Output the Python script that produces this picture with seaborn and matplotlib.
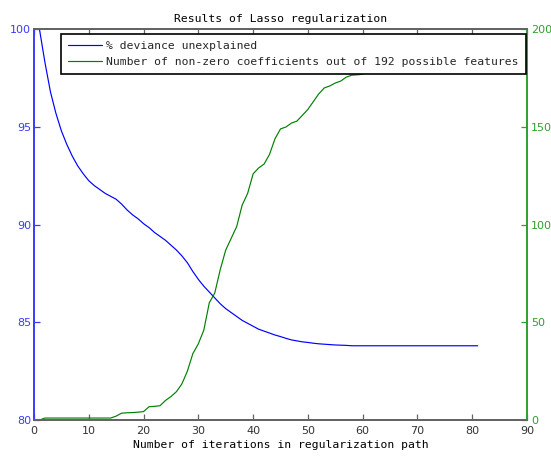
import numpy as np
import pandas as pd
import matplotlib
matplotlib.use("Agg")
import matplotlib.pyplot as plt
import seaborn as sns

# ---- data ----
iterations = list(range(1, 82))

deviance = [
    100.0, 98.3, 96.8, 95.7, 94.8, 94.1, 93.5, 93.0, 92.6, 92.25,
    92.0, 91.8, 91.6, 91.45, 91.3, 91.05, 90.75, 90.5, 90.3, 90.05,
    89.85, 89.6, 89.4, 89.2, 88.95, 88.7, 88.4, 88.05, 87.6, 87.2,
    86.85, 86.55, 86.25, 85.95, 85.7, 85.5, 85.3, 85.1, 84.95, 84.8,
    84.65, 84.55, 84.45, 84.35, 84.27, 84.18, 84.1, 84.05, 84.0, 83.97,
    83.93, 83.9, 83.88, 83.86, 83.84, 83.83, 83.82, 83.8, 83.8, 83.8,
    83.8, 83.8, 83.8, 83.8, 83.8, 83.8, 83.8, 83.8, 83.8, 83.8,
    83.8, 83.8, 83.8, 83.8, 83.8, 83.8, 83.8, 83.8, 83.8, 83.8,
    83.8,
]

nonzero = [
    0, 1, 1, 1, 1, 1, 1, 1, 1, 1,
    1, 1, 1, 1, 2, 3.5, 3.7, 3.8, 4, 4.3,
    6.8, 7, 7.3, 10, 12, 14.5, 18.5, 25, 34, 39,
    46, 60, 65, 77, 87, 93, 99, 110, 116, 126,
    129, 131, 136, 144, 149, 150, 152, 153, 156, 159,
    163, 167, 170, 171, 172.5, 173.5, 175.5, 176.5, 176.7, 177,
    179, 180, 181, 181.5, 182, 182.5, 183, 183.5, 184, 184.5,
    185, 185, 185.5, 186, 186, 186.5, 187, 187, 187.5, 187.5,
    188,
]

title = "Results of Lasso regularization"
xlabel = "Number of iterations in regularization path"
label_dev = "% deviance unexplained"
label_nz = "Number of non-zero coefficients out of 192 possible features"

x_ticks = list(range(0, 91, 10))
left_ticks = [80, 85, 90, 95, 100]
right_ticks = [0, 50, 100, 150, 200]

df = pd.DataFrame({"iter": iterations, "dev": deviance, "nz": nonzero})

# ---- style ----
sns.set_style("white")
plt.rcParams["font.family"] = ["DejaVu Sans"]
mono = "DejaVu Sans Mono"

BLUE = "#0000ff"
GREEN = "#008000"
BLUE_T = "#3a3aff"
GREEN_T = "#2f9f2f"
GRAY = "#646464"

fig = plt.figure(figsize=(5.51, 4.57), dpi=100)
ax = fig.add_axes([34 / 551, 1 - 420 / 457, 493 / 551, 390.7 / 457])
ax2 = ax.twinx()

sns.lineplot(data=df, x="iter", y="dev", ax=ax, color=BLUE, linewidth=0.85,
             label=label_dev, legend=False)
sns.lineplot(data=df, x="iter", y="nz", ax=ax2, color=GREEN, linewidth=0.85,
             label=label_nz, legend=False)

ax.set_xlim(0, 90)
ax.set_ylim(80, 100)
ax2.set_ylim(0, 200)
ax.set_xticks(x_ticks)
ax.set_yticks(left_ticks)
ax2.set_yticks(right_ticks)
ax.set_xticklabels([str(t) for t in x_ticks])
ax.set_yticklabels([str(t) for t in left_ticks])
ax2.set_yticklabels([str(t) for t in right_ticks])

ax.set_xlabel(xlabel, family=mono, fontsize=8.2, color="black", labelpad=3)
ax.set_ylabel("")
ax2.set_ylabel("")
ax.set_title(title, family=mono, fontsize=8.2, color="black", pad=5)

# ticks
ax.tick_params(axis="x", direction="in", length=4, width=0.9, color=GRAY,
               labelcolor="#333333", labelsize=8, pad=4, top=True, bottom=True)
ax.tick_params(axis="y", direction="in", length=4, width=0.9, color=BLUE_T,
               labelcolor=BLUE_T, labelsize=8, pad=2, left=True, right=False)
ax2.tick_params(axis="y", direction="in", length=4, width=0.9, color=GREEN_T,
                labelcolor=GREEN_T, labelsize=8, pad=3, right=True, left=False)

for a in (ax, ax2):
    for s in a.spines.values():
        s.set_visible(True)
        s.set_linewidth(1.4)
    a.spines["bottom"].set_color(GRAY)
    a.spines["top"].set_color(GRAY)
    a.spines["left"].set_color(BLUE_T)
    a.spines["right"].set_color(GREEN_T)
ax.spines["right"].set_visible(False)
ax2.spines["left"].set_visible(False)

# legend on the top axes so it covers the green line
h1, l1 = ax.get_legend_handles_labels()
h2, l2 = ax2.get_legend_handles_labels()
leg = ax2.legend(h1 + h2, l1 + l2, loc="upper left",
                 bbox_to_anchor=(0.0548, 0.988),
                 prop={"family": mono, "size": 8.2},
                 frameon=True, fancybox=False, framealpha=1,
                 edgecolor="black", handlelength=3.0, handletextpad=0.35,
                 borderpad=0.62, labelspacing=0.55, borderaxespad=0)
leg.get_frame().set_linewidth(1.2)

fig.savefig("out.png", dpi=100)
